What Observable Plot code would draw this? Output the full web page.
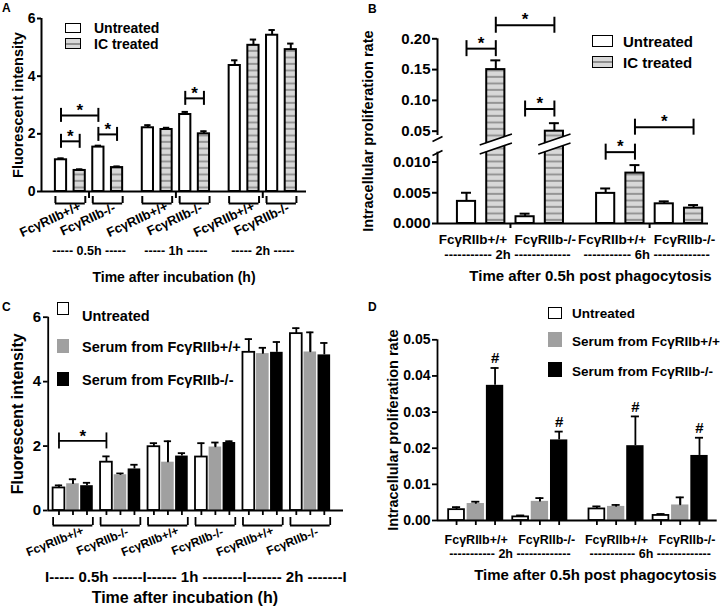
<!DOCTYPE html>
<html>
<head>
<meta charset="utf-8">
<script src="https://cdn.jsdelivr.net/npm/d3@7"></script>
<script src="https://cdn.jsdelivr.net/npm/@observablehq/plot@0.6"></script>
<style>
  html, body { margin: 0; padding: 0; background: #fff; }
  #fig { position: relative; width: 721px; height: 611px; overflow: hidden; background: #fff;
         font-family: "Liberation Sans", Arial, Helvetica, sans-serif; font-weight: bold; color: #000; }
  .panel { position: absolute; }
  .panel svg { display: block; }
  .panel svg text { white-space: pre; }
  .lbl { position: absolute; white-space: nowrap; line-height: 1; }
  .sw { position: absolute; box-sizing: border-box; }
</style>
</head>
<body>
<div id="fig"></div>
<script>
// ================= DATA =================
// Panel A: fluorescent intensity, ordered time -> genotype -> treatment
const aTimes = ["0.5h", "1h", "2h"];
const aGenotypes = ["FcγRIIb+/+", "FcγRIIb-/-"];
const aTreatments = ["Untreated", "IC treated"];
const aMeans = [1.10, 0.73, 1.54, 0.83, 2.21, 2.15, 2.67, 2.00, 4.37, 5.07, 5.42, 4.92];
const aSEM   = [0.05, 0.04, 0.05, 0.04, 0.09, 0.06, 0.09, 0.09, 0.18, 0.20, 0.18, 0.21];
const aTicks = [0, 2, 4, 6];
const aSig = [{from: 0, to: 2, level: 2.64}, {from: 0, to: 1, level: 1.74}, {from: 2, to: 3, level: 1.98}, {from: 6, to: 7, level: 3.23}];

// Panel B: intracellular proliferation rate, ordered time -> genotype -> treatment
const bTimes = ["2h", "6h"];
const bGenotypes = ["FcγRIIb+/+", "FcγRIIb-/-"];
const bTreatments = ["Untreated", "IC treated"];
const bMeans = [0.0036, 0.150, 0.0011, 0.050, 0.0049, 0.0082, 0.0032, 0.0025];
const bSEM   = [0.0014, 0.015, 0.0005, 0.013, 0.0008, 0.0013, 0.0004, 0.0005];
const bTicks = [0, 0.005, 0.010, 0.05, 0.10, 0.15, 0.20];
const bTickLabels = ["0.000", "0.005", "0.010", "0.05", "0.10", "0.15", "0.20"];
const bSig = [{from: 0, to: 1, level: 0.184}, {from: 1, to: 3, level: 0.222}, {from: 2, to: 3, level: 0.086}, {from: 4, to: 5, level: 0.0117}, {from: 5, to: 7, level: 0.0565}];

// Panel C: fluorescent intensity, ordered time -> genotype -> serum
const cTimes = ["0.5h", "1h", "2h"];
const cGenotypes = ["FcγRIIb+/+", "FcγRIIb-/-"];
const cSeries = ["Untreated", "Serum from FcγRIIb+/+", "Serum from FcγRIIb-/-"];
const cMeans = [0.70, 0.83, 0.77, 1.50, 1.11, 1.29, 1.98, 1.50, 1.69, 1.66, 1.97, 2.11, 4.91, 4.87, 4.91, 5.49, 4.92, 4.83];
const cSEM   = [0.08, 0.14, 0.09, 0.18, 0.04, 0.13, 0.11, 0.65, 0.09, 0.43, 0.14, 0.04, 0.41, 0.18, 0.32, 0.17, 0.61, 0.37];
const cTicks = [0, 2, 4, 6];
const cSig = [{from: 0, to: 3, level: 2.16}];
const cTimeLine = "I----- 0.5h ------I------ 1h --------I------- 2h -------I";

// Panel D: intracellular proliferation rate, ordered time -> genotype -> serum
const dTimes = ["2h", "6h"];
const dGenotypes = ["FcγRIIb+/+", "FcγRIIb-/-"];
const dSeries = ["Untreated", "Serum from FcγRIIb+/+", "Serum from FcγRIIb-/-"];
const dMeans = [0.0030, 0.0047, 0.0374, 0.0010, 0.0053, 0.0223, 0.0032, 0.0039, 0.0207, 0.0014, 0.0043, 0.0180];
const dSEM   = [0.0007, 0.0005, 0.0048, 0.0004, 0.0009, 0.0023, 0.0007, 0.0004, 0.0081, 0.0004, 0.0021, 0.0049];
const dMarks = ["", "", "#", "", "", "#", "", "", "#", "", "", "#"];
const dTicks = [0, 0.01, 0.02, 0.03, 0.04, 0.05];

// ================= LAYOUT HELPERS =================
const NS = "http://www.w3.org/2000/svg";
const fig = document.getElementById("fig");
const STYLE = 'font-family: "Liberation Sans", Arial, Helvetica, sans-serif; font-weight: bold; background: transparent; overflow: visible; color: black;';
const GREY = "#a0a0a0";

function place(svg, left, top, w, h, patternId) {
  if (patternId) {
    const defs = document.createElementNS(NS, "defs");
    defs.innerHTML = `<pattern id="${patternId}" patternUnits="userSpaceOnUse" width="8" height="6.5"><rect width="8" height="6.5" fill="#d8d8d8"></rect><rect y="4.5" width="8" height="1.8" fill="#8e8e8e"></rect></pattern>`;
    svg.insertBefore(defs, svg.firstChild);
  }
  const div = document.createElement("div");
  div.className = "panel";
  Object.assign(div.style, {left: left + "px", top: top + "px", width: w + "px", height: h + "px"});
  div.appendChild(svg);
  fig.appendChild(div);
}
function swatch(x, y, w, h, bg, border) {
  const d = document.createElement("div");
  d.className = "sw";
  Object.assign(d.style, {left: x + "px", top: y + "px", width: w + "px", height: h + "px", background: bg, border: border || "none"});
  fig.appendChild(d);
}
function label(text, x, cy, fs) {
  const d = document.createElement("div");
  d.className = "lbl";
  d.textContent = text;
  Object.assign(d.style, {left: x + "px", top: (cy - 0.5 * fs) + "px", fontSize: fs + "px"});
  fig.appendChild(d);
}
const STRIPES = "repeating-linear-gradient(to bottom, #d8d8d8 0px, #d8d8d8 4.5px, #8e8e8e 4.5px, #8e8e8e 6.3px, #d8d8d8 6.3px, #d8d8d8 6.5px)";
function rows(means, sem, nS, nG, posOf) {
  return means.map((m, i) => {
    const s = i % nS, g = Math.floor(i / nS) % nG, t = Math.floor(i / (nS * nG));
    return {i, t, g, s, mean: m, top: m + sem[i], pos: posOf(t, g, s)};
  });
}

// ================= PANEL A =================
{
  const TIME = 4.65, HW = 0.3, CAP = 0.17, SW = 2;
  const posOf = (t, g, s) => t * TIME + g * 2 + s;
  const X = {domain: [-1.044, 13.14], range: [41, 306]};
  const Y = {domain: [0, 6], range: [191, 18]};
  const ys = d3.scaleLinear(Y.domain, Y.range), xs = d3.scaleLinear(X.domain, X.range);
  const yAt = px => ys.invert(px), xAt = px => xs.invert(px);
  const data = rows(aMeans, aSEM, 2, 2, posOf);
  const groups = d3.cross(d3.range(aTimes.length), d3.range(aGenotypes.length)).map(([t, g]) => ({t, g, x1: posOf(t, g, 0) - HW, x2: posOf(t, g, 1) + HW, xc: posOf(t, g, 0.5)}));
  const mids = aTimes.map((lab, t) => ({x: t * TIME + 1.5, label: `----- ${lab} -----`}));
  const sig = aSig.map(d => ({x1: data[d.from].pos, x2: data[d.to].pos, level: d.level}));
  const L = X.domain[0], R = X.domain[1];
  const svg = Plot.plot({
    width: 360, height: 300, marginLeft: 41, marginRight: 54, marginTop: 18, marginBottom: 109,
    x: {...X, axis: null}, y: {...Y, axis: null}, style: STYLE,
    marks: [
      Plot.rect(data, {filter: d => d.s === 0, x1: d => d.pos - HW, x2: d => d.pos + HW, y1: 0, y2: "mean", fill: "white", stroke: "black", strokeWidth: SW}),
      Plot.rect(data, {filter: d => d.s === 1, x1: d => d.pos - HW, x2: d => d.pos + HW, y1: 0, y2: "mean", fill: "url(#stripesA)", stroke: "black", strokeWidth: SW}),
      Plot.ruleX(data, {x: "pos", y1: "mean", y2: "top", strokeWidth: SW}),
      Plot.ruleY(data, {y: "top", x1: d => d.pos - CAP, x2: d => d.pos + CAP, strokeWidth: SW}),
      Plot.ruleX([L], {y1: 0, y2: 6, strokeWidth: SW}),
      Plot.ruleY([0], {x1: L, x2: R, strokeWidth: SW}),
      Plot.ruleY(aTicks, {x1: xAt(37), x2: L, strokeWidth: SW}),
      Plot.text(aTicks, {x: L, y: d => d, text: d => `${d}`, textAnchor: "end", dx: -6, fontSize: 14}),
      Plot.ruleY(groups, {y: yAt(203), x1: "x1", x2: "x2", strokeWidth: SW}),
      Plot.ruleX(groups, {x: "x1", y1: yAt(196), y2: yAt(203), strokeWidth: SW}),
      Plot.ruleX(groups, {x: "x2", y1: yAt(196), y2: yAt(203), strokeWidth: SW}),
      Plot.ruleX(mids, {x: "x", y1: 0, y2: yAt(198), strokeWidth: SW}),
      Plot.text(groups, {x: "xc", y: yAt(219), text: d => aGenotypes[d.g], rotate: -25, dx: -20, fontSize: 13}),
      Plot.text(mids, {x: "x", y: yAt(250), text: "label", fontSize: 12.5}),
      Plot.ruleY(sig, {y: "level", x1: "x1", x2: "x2", strokeWidth: SW}),
      Plot.ruleX(sig, {x: "x1", y1: d => yAt(ys(d.level) - 7), y2: d => yAt(ys(d.level) + 7), strokeWidth: SW}),
      Plot.ruleX(sig, {x: "x2", y1: d => yAt(ys(d.level) - 7), y2: d => yAt(ys(d.level) + 7), strokeWidth: SW}),
      Plot.text(sig, {x: d => (d.x1 + d.x2) / 2, y: "level", text: () => "*", fontSize: 17, dy: -5}),
      Plot.text(["Fluorescent intensity"], {frameAnchor: "left", text: d => d, textAnchor: "middle", lineAnchor: "middle", rotate: -90, dx: -23, fontSize: 14.5}),
      Plot.text(["Time after incubation (h)"], {frameAnchor: "bottom", text: d => d, lineAnchor: "middle", dy: 86, fontSize: 14})
    ]
  });
  place(svg, 0, 0, 360, 300, "stripesA");
  swatch(65, 23, 16, 10, "#fff", "1.5px solid #000");
  swatch(65, 38, 16, 11, STRIPES, "1.5px solid #000");
  label(aTreatments[0], 94, 28, 14);
  label(aTreatments[1], 94, 43.5, 14);
  label("A", 2, 8, 12);
}

// ================= PANEL B =================
{
  const TIME = 4.75, HW = 0.31, CAP = 0.17, SW = 2;
  const posOf = (t, g, s) => t * TIME + g * 2 + s;
  const X = {domain: [-0.99, 8.26], range: [77, 348]};
  // broken value axis: lower segment 0..0.0116, gap, upper segment 0.043..0.2
  const BREAK = {values: [0, 0.0116, 0.043, 0.2], pixels: [223, 151.7, 135, 38.3]};
  const bs = d3.scaleLinear(BREAK.values, BREAK.pixels);
  const Y = {transform: v => bs(v), domain: [223, 38.3], range: [223, 38.3]};
  const xs = d3.scaleLinear(X.domain, X.range);
  const yAt = px => bs.invert(px), xAt = px => xs.invert(px);
  const data = rows(bMeans, bSEM, 2, 2, posOf);
  const broken = data.filter(d => d.mean > BREAK.values[2]);
  const mids = bTimes.map((lab, t) => ({x: t * TIME + 1.5, label: `----------- ${lab} -------------`, genos: bGenotypes.join("  ")}));
  const sig = bSig.map(d => ({x1: data[d.from].pos, x2: data[d.to].pos, level: d.level}));
  const ticks = bTicks.map((v, i) => ({v, label: bTickLabels[i]}));
  const L = X.domain[0], R = X.domain[1];
  const svg = Plot.plot({
    width: 361, height: 300, marginLeft: 77, marginRight: 13, marginTop: 38.3, marginBottom: 77,
    x: {...X, axis: null}, y: {...Y, axis: null}, style: STYLE,
    marks: [
      Plot.rect(data, {filter: d => d.s === 0, x1: d => d.pos - HW, x2: d => d.pos + HW, y1: 0, y2: "mean", fill: "white", stroke: "black", strokeWidth: SW}),
      Plot.rect(data, {filter: d => d.s === 1, x1: d => d.pos - HW, x2: d => d.pos + HW, y1: 0, y2: "mean", fill: "url(#stripesB)", stroke: "black", strokeWidth: SW}),
      Plot.ruleX(data, {x: "pos", y1: "mean", y2: "top", strokeWidth: SW}),
      Plot.ruleY(data, {y: "top", x1: d => d.pos - CAP, x2: d => d.pos + CAP, strokeWidth: SW}),
      // axis break drawn across the tall bars
      Plot.link(broken, {x1: d => d.pos - 0.55, x2: d => d.pos + 0.55, y1: yAt(149), y2: yAt(138), stroke: "white", strokeWidth: 8}),
      Plot.link(broken, {x1: d => d.pos - 0.55, x2: d => d.pos + 0.55, y1: yAt(149), y2: yAt(138), strokeWidth: 1.6, dy: -4.5}),
      Plot.link(broken, {x1: d => d.pos - 0.55, x2: d => d.pos + 0.55, y1: yAt(149), y2: yAt(138), strokeWidth: 1.6, dy: 4.5}),
      // y axis (broken)
      Plot.ruleX([L], {y1: 0, y2: BREAK.values[1], strokeWidth: SW}),
      Plot.ruleX([L], {y1: BREAK.values[2], y2: 0.2, strokeWidth: SW}),
      Plot.link([0, 1], {x1: xAt(72), x2: xAt(82), y1: i => yAt(i ? 141 : 155), y2: i => yAt(i ? 136 : 150), strokeWidth: 1.6}),
      Plot.ruleY([0], {x1: L, x2: R, strokeWidth: SW}),
      Plot.ruleY(ticks, {y: "v", x1: xAt(72), x2: L, strokeWidth: SW}),
      Plot.text(ticks, {x: L, y: "v", text: "label", textAnchor: "end", dx: -7, fontSize: 15}),
      Plot.ruleX(mids, {x: "x", y1: 0, y2: yAt(228), strokeWidth: SW}),
      Plot.text(mids, {x: "x", y: yAt(239), text: "genos", dx: -3, fontSize: 13.5}),
      Plot.text(mids, {x: "x", y: yAt(254), text: "label", dx: -3, fontSize: 13}),
      Plot.ruleY(sig, {y: "level", x1: "x1", x2: "x2", strokeWidth: SW}),
      Plot.ruleX(sig, {x: "x1", y1: d => yAt(bs(d.level) - 8), y2: d => yAt(bs(d.level) + 8), strokeWidth: SW}),
      Plot.ruleX(sig, {x: "x2", y1: d => yAt(bs(d.level) - 8), y2: d => yAt(bs(d.level) + 8), strokeWidth: SW}),
      Plot.text(sig, {x: d => (d.x1 + d.x2) / 2, y: "level", text: () => "*", fontSize: 17, dy: -5.5}),
      Plot.text(["Intracellular proliferation rate"], {frameAnchor: "left", text: d => d, textAnchor: "middle", lineAnchor: "middle", rotate: -90, dx: -69, fontSize: 14.5}),
      Plot.text(["Time after 0.5h post phagocytosis"], {frameAnchor: "bottom", text: d => d, lineAnchor: "middle", dx: 17.5, dy: 53, fontSize: 15})
    ]
  });
  place(svg, 360, 0, 361, 300, "stripesB");
  swatch(592, 35, 21, 12, "#fff", "1.5px solid #000");
  swatch(592, 56, 21, 12, STRIPES, "1.5px solid #000");
  label(bTreatments[0], 623, 41, 15);
  label(bTreatments[1], 623, 62, 15);
  label("B", 368, 9, 12);
}

// ================= PANEL C =================
{
  const GS = 3.39, HW = 0.42, CAP = 0.26, SW = 1.8;
  const posOf = (t, g, s) => (t * 2 + g) * GS + s;
  const X = {domain: [-0.77, 20.32], range: [47.7, 343]};
  const Y = {domain: [0, 6], range: [210, 16.7]};
  const ys = d3.scaleLinear(Y.domain, Y.range), xs = d3.scaleLinear(X.domain, X.range);
  const yAt = px => ys.invert(px), xAt = px => xs.invert(px);
  const data = rows(cMeans, cSEM, 3, 2, posOf);
  const groups = d3.cross(d3.range(cTimes.length), d3.range(cGenotypes.length)).map(([t, g]) => ({t, g, x1: posOf(t, g, 0) - HW, x2: posOf(t, g, 2) + HW, xc: posOf(t, g, 1)}));
  const sig = cSig.map(d => ({x1: data[d.from].pos, x2: data[d.to].pos, level: d.level}));
  const L = X.domain[0], R = X.domain[1];
  const fills = ["white", GREY, "black"];
  const svg = Plot.plot({
    width: 360, height: 311, marginLeft: 47.7, marginRight: 17, marginTop: 16.7, marginBottom: 101,
    x: {...X, axis: null}, y: {...Y, axis: null}, style: STYLE,
    marks: [
      Plot.ruleX(data, {x: "pos", y1: "mean", y2: "top", strokeWidth: SW}),
      Plot.ruleY(data, {y: "top", x1: d => d.pos - CAP, x2: d => d.pos + CAP, strokeWidth: SW}),
      Plot.rect(data, {filter: d => d.s === 0, x1: d => d.pos - HW, x2: d => d.pos + HW, y1: 0, y2: "mean", fill: fills[0], stroke: "black", strokeWidth: SW}),
      Plot.rect(data, {filter: d => d.s === 1, x1: d => d.pos - HW - 0.03, x2: d => d.pos + HW + 0.03, y1: 0, y2: "mean", fill: fills[1]}),
      Plot.rect(data, {filter: d => d.s === 2, x1: d => d.pos - HW - 0.03, x2: d => d.pos + HW + 0.03, y1: 0, y2: "mean", fill: fills[2]}),
      Plot.ruleX(data, {filter: d => d.s === 1, x: "pos", y1: d => d.mean - 0.02, y2: "top", strokeWidth: SW}),
      Plot.ruleX([L], {y1: 0, y2: 6, strokeWidth: SW}),
      Plot.ruleY([0], {x1: L, x2: R, strokeWidth: SW}),
      Plot.ruleY(cTicks, {x1: xAt(43), x2: L, strokeWidth: SW}),
      Plot.text(cTicks, {x: L, y: d => d, text: d => `${d}`, textAnchor: "end", dx: -7, fontSize: 15}),
      Plot.ruleX(data, {x: "pos", y1: 0, y2: yAt(215), strokeWidth: SW}),
      Plot.ruleY(groups, {y: yAt(225), x1: "x1", x2: "x2", strokeWidth: SW}),
      Plot.ruleX(groups, {x: "x1", y1: yAt(217), y2: yAt(225), strokeWidth: SW}),
      Plot.ruleX(groups, {x: "x2", y1: yAt(217), y2: yAt(225), strokeWidth: SW}),
      Plot.text(groups, {x: "xc", y: yAt(241), text: d => cGenotypes[d.g], rotate: -22, dx: -18, fontSize: 12}),
      Plot.text([cTimeLine], {frameAnchor: "bottom", text: d => d, lineAnchor: "middle", dy: 67, fontSize: 15}),
      Plot.ruleY(sig, {y: "level", x1: "x1", x2: "x2", strokeWidth: SW}),
      Plot.ruleX(sig, {x: "x1", y1: d => yAt(ys(d.level) - 8), y2: d => yAt(ys(d.level) + 8), strokeWidth: SW}),
      Plot.ruleX(sig, {x: "x2", y1: d => yAt(ys(d.level) - 8), y2: d => yAt(ys(d.level) + 8), strokeWidth: SW}),
      Plot.text(sig, {x: d => (d.x1 + d.x2) / 2, y: "level", text: () => "*", fontSize: 17, dy: -4.5}),
      Plot.text(["Fluorescent intensity"], {frameAnchor: "left", text: d => d, textAnchor: "middle", lineAnchor: "middle", rotate: -90, dx: -30.7, fontSize: 16}),
      Plot.text(["Time after incubation (h)"], {frameAnchor: "bottom", text: d => d, lineAnchor: "middle", dx: -11, dy: 87, fontSize: 16})
    ]
  });
  place(svg, 0, 300, 360, 311);
  swatch(57, 302, 12, 13, "#fff", "1.8px solid #000");
  swatch(57, 339, 12, 14, GREY);
  swatch(57, 372, 12, 14, "#000");
  label(cSeries[0], 82, 316, 14.5);
  label(cSeries[1], 82, 347.5, 14.5);
  label(cSeries[2], 82, 380.5, 14.5);
  label("C", 2, 307, 12);
}

// ================= PANEL D =================
{
  const GS = 3.33, TS = 7.29, HW = 0.41, CAP = 0.21, SW = 1.8;
  const posOf = (t, g, s) => t * TS + g * GS + s;
  const X = {domain: [-0.99, 13.54], range: [77, 356.7]};
  const Y = {domain: [0, 0.05], range: [220, 39.3]};
  const ys = d3.scaleLinear(Y.domain, Y.range), xs = d3.scaleLinear(X.domain, X.range);
  const yAt = px => ys.invert(px), xAt = px => xs.invert(px);
  const data = rows(dMeans, dSEM, 3, 2, posOf).map(d => ({...d, mark: dMarks[d.i]}));
  const mids = dTimes.map((lab, t) => ({x: (posOf(t, 0, 0) + posOf(t, 1, 2)) / 2, label: `----------- ${lab} -------------`, genos: dGenotypes.join("   ")}));
  const L = X.domain[0], R = X.domain[1];
  const fmt = d3.format(".2f");
  const svg = Plot.plot({
    width: 361, height: 311, marginLeft: 77, marginRight: 4.3, marginTop: 39.3, marginBottom: 91,
    x: {...X, axis: null}, y: {...Y, axis: null}, style: STYLE,
    marks: [
      Plot.ruleX(data, {x: "pos", y1: "mean", y2: "top", strokeWidth: SW}),
      Plot.ruleY(data, {y: "top", x1: d => d.pos - CAP, x2: d => d.pos + CAP, strokeWidth: SW}),
      Plot.rect(data, {filter: d => d.s === 0, x1: d => d.pos - HW, x2: d => d.pos + HW, y1: 0, y2: "mean", fill: "white", stroke: "black", strokeWidth: SW}),
      Plot.rect(data, {filter: d => d.s === 1, x1: d => d.pos - HW - 0.04, x2: d => d.pos + HW + 0.04, y1: 0, y2: "mean", fill: GREY}),
      Plot.rect(data, {filter: d => d.s === 2, x1: d => d.pos - HW - 0.04, x2: d => d.pos + HW + 0.04, y1: 0, y2: "mean", fill: "black"}),
      Plot.ruleX(data, {filter: d => d.s === 1, x: "pos", y1: d => d.mean - 0.0002, y2: "top", strokeWidth: SW}),
      Plot.text(data, {filter: d => d.mark, x: "pos", y: "top", text: "mark", fontSize: 15, dy: -9.5}),
      Plot.ruleX([L], {y1: 0, y2: 0.05, strokeWidth: SW}),
      Plot.ruleY([0], {x1: L, x2: R, strokeWidth: SW}),
      Plot.ruleY(dTicks, {x1: xAt(72), x2: L, strokeWidth: SW}),
      Plot.text(dTicks, {x: L, y: d => d, text: d => fmt(d), textAnchor: "end", dx: -7, fontSize: 14}),
      Plot.ruleX(data, {x: "pos", y1: 0, y2: yAt(225), strokeWidth: SW}),
      Plot.text(mids, {x: "x", y: yAt(239), text: "genos", dx: 2, fontSize: 12.5}),
      Plot.text(mids, {x: "x", y: yAt(253), text: "label", dx: 2, fontSize: 12.5}),
      Plot.text(["Intracellular proliferation rate"], {frameAnchor: "left", text: d => d, textAnchor: "middle", lineAnchor: "middle", rotate: -90, dx: -44, fontSize: 14.5}),
      Plot.text(["Time after 0.5h post phagocytosis"], {frameAnchor: "bottom", text: d => d, lineAnchor: "middle", dx: 18, dy: 55, fontSize: 15})
    ]
  });
  place(svg, 360, 300, 361, 311);
  swatch(548, 307, 14, 12, "#fff", "1.8px solid #000");
  swatch(548, 332, 14, 15, GREY);
  swatch(548, 362, 14, 15, "#000");
  label(dSeries[0], 572, 314, 13.5);
  label(dSeries[1], 572, 342, 13.5);
  label(dSeries[2], 572, 372, 13.5);
  label("D", 368, 307, 12);
}
</script>
</body>
</html>
